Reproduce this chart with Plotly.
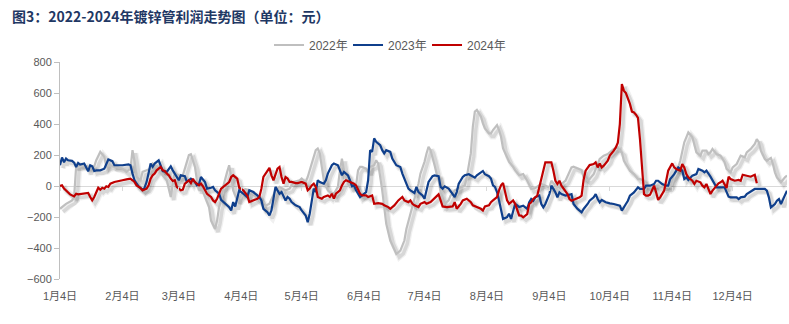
import plotly.graph_objects as go
import pandas as pd

# ---- data (day of year in a common calendar year, value in 元) ----
days_2022 = [4,7,10,11,12,14,16,18,21,22,24,26,27,29,31,32,35,37,39,40,41,42,44,45,47,49,50,52,54,55,57,59,60,61,63,65,66,68,69,70,71,72,73,74,76,78,79,81,82,83,84,85,87,88,89,90,92,94,96,98,100,103,105,108,111,113,116,118,120,123,124,126,127,129,131,132,133,134,135,137,138,140,142,143,144,145,147,148,151,152,153,154,156,157,158,160,161,162,163,164,165,166,168,170,171,173,175,176,178,180,181,182,183,185,186,187,188,189,190,191,192,193,194,195,197,198,199,200,202,204,205,206,207,208,209,210,211,212,213,214,215,217,218,219,221,222,223,224,225,227,229,230,232,234,236,237,238,240,242,243,245,247,248,250,252,253,255,257,258,259,261,263,264,266,267,269,271,272,274,276,277,279,281,282,283,284,286,287,289,291,292,294,295,297,299,301,302,304,306,307,309,311,312,313,314,315,316,318,319,320,322,323,325,326,327,328,330,332,334,335,337,338,340,341,342,344,345,347,349,350,351,352,354,355,357,358,359,360,362,364,365]
vals_2022 = [-147,-115,-93,-71,123,134,134,123,127,166,220,188,123,134,123,123,112,91,112,231,160,58,37,91,101,112,145,123,91,69,37,-71,15,91,58,69,112,199,205,166,123,37,-28,-6,-71,-136,-223,-277,-223,-136,-93,-6,91,134,58,-28,-93,-60,-20,-28,-50,-93,-136,-115,-28,-6,-28,-17,26,37,48,26,58,145,231,242,210,123,37,-28,-39,-50,-6,101,177,101,15,-6,4,101,123,123,112,91,123,134,166,145,69,-28,-136,-244,-352,-417,-439,-417,-352,-277,-179,-93,-50,15,80,156,210,253,231,188,134,80,37,-39,-93,-115,-93,-61,-50,-28,-17,-6,4,58,145,210,383,480,491,469,448,404,372,339,339,361,393,361,318,242,210,156,123,101,69,77,34,2,-19,-13,2,13,2,-9,34,2,-9,13,34,99,120,125,116,103,56,34,45,77,142,174,196,206,217,239,249,228,217,163,120,99,77,45,45,34,2,-9,2,2,-9,2,-9,2,77,120,163,228,282,314,346,314,260,217,196,228,228,206,217,239,206,196,153,110,88,120,142,174,196,185,217,239,271,303,282,228,174,163,181,142,88,56,24,56,67]

days_2023 = [4,5,6,7,8,10,11,12,13,14,16,17,18,19,20,21,22,24,26,28,30,31,33,35,38,39,40,41,43,45,46,47,48,49,50,51,53,54,55,57,59,60,61,62,63,64,66,67,68,69,71,72,73,74,76,77,79,80,81,83,84,86,88,89,90,91,92,93,95,97,98,100,102,103,104,105,107,108,109,110,111,112,113,114,116,117,118,119,121,123,124,126,127,128,129,130,131,132,133,135,136,137,139,140,142,143,144,145,147,148,149,150,151,153,154,156,157,158,159,160,161,163,164,165,166,168,169,170,171,173,174,176,177,178,180,181,182,184,185,186,187,189,190,192,193,194,195,197,199,200,201,202,204,205,207,209,210,211,213,214,215,217,218,219,220,221,222,223,224,226,227,228,229,230,231,232,234,236,237,238,239,240,242,243,244,245,247,248,249,250,251,252,253,255,257,258,259,261,263,264,266,267,269,270,271,272,273,275,277,279,282,283,285,286,287,289,291,292,294,295,297,299,300,301,303,305,306,307,309,310,311,313,314,315,316,318,320,321,323,324,325,327,328,330,332,334,336,337,340,341,342,344,345,347,349,351,354,355,356,357,359,360,361,362,364,365]
vals_2023 = [134,184,153,177,166,162,151,123,149,138,145,123,95,134,127,97,101,101,112,171,160,134,134,134,140,134,80,37,-2,-24,-11,26,84,145,123,145,166,134,97,91,127,101,80,58,37,69,63,26,37,47,26,4,11,58,26,-17,-11,-6,-28,-50,-89,-114,-136,-158,-104,-132,-71,-28,-50,-71,-28,-39,-61,-71,-93,-147,-169,-190,-158,-71,-6,-28,-50,-39,-93,-71,-82,-104,-125,-136,-158,-190,-233,-179,-93,-17,-39,37,26,15,37,80,134,145,134,101,69,91,69,37,-2,4,-28,-71,-61,-39,37,231,220,307,285,264,231,210,231,220,177,156,134,123,80,15,-17,-28,-45,-6,-39,-61,-82,-28,26,63,69,63,-6,-17,-2,-17,-50,-71,-39,15,58,69,76,63,54,69,91,97,76,63,48,4,-6,-39,-93,-158,-212,-201,-179,-212,-169,-115,-125,-136,-127,-148,-105,-84,-95,-73,-62,-116,-138,-116,-52,2,-19,-41,-73,-41,-52,-62,-56,-52,-116,-148,-170,-148,-116,-95,-73,-52,-84,-105,-90,-105,-112,-116,-127,-159,-116,-95,-62,-41,-9,-19,-19,2,2,13,34,34,13,2,2,45,77,103,120,99,45,56,39,67,77,110,99,88,99,60,34,-9,-9,-9,-69,-73,-73,-84,-73,-69,-52,-34,-19,-19,-19,-30,-73,-138,-116,-95,-84,-116,-52,-30]

days_2024 = [4,5,6,7,9,11,12,13,15,16,18,19,20,21,22,23,24,25,26,27,28,29,31,32,35,37,39,40,41,42,44,45,47,48,49,50,51,52,54,55,56,57,58,59,60,61,62,64,65,66,68,69,70,71,73,74,75,77,79,80,81,82,83,84,86,88,89,90,92,93,95,97,98,100,102,103,104,105,106,107,108,109,110,112,113,114,115,116,117,118,119,121,122,124,126,127,128,129,130,131,132,134,135,137,138,139,140,141,143,144,145,146,148,150,151,153,154,156,157,159,160,162,164,165,167,168,170,172,174,175,177,178,179,180,182,183,185,186,188,189,191,192,193,194,196,198,199,200,201,203,204,206,208,209,211,213,214,215,217,218,219,221,222,223,224,225,226,227,228,229,230,231,232,233,234,236,237,238,239,241,242,243,244,245,247,248,249,250,251,252,253,254,256,257,258,260,262,263,264,265,266,267,269,270,271,272,273,274,276,277,279,280,281,282,283,284,285,286,287,288,289,290,291,292,293,294,295,296,297,299,300,301,302,304,305,306,308,309,310,312,313,314,315,316,318,319,320,322,323,324,325,326,327,328,330,331,332,333,335,336,337,339,341,342,343,345,347,348,349,350]
vals_2024 = [0,4,-17,-28,-54,-67,-50,-54,-50,-50,-45,-71,-93,-71,-39,-11,-24,-11,-17,-2,-6,15,26,30,37,43,47,37,26,4,-13,-28,-17,4,47,69,80,101,123,101,97,80,69,47,32,37,-6,-28,-24,15,37,19,47,26,4,15,-2,-50,-71,-93,-104,-82,-50,-17,4,26,58,69,47,-11,-28,-61,-104,-93,-82,-71,-17,58,80,101,117,69,37,112,123,58,15,58,48,26,26,19,19,26,15,-28,-17,4,15,-6,-71,-82,-71,-61,-71,-50,-82,-50,-28,4,26,37,26,15,4,-50,-61,-61,-71,-61,-115,-110,-115,-125,-136,-147,-125,-93,-71,-93,-104,-93,-115,-125,-136,-115,-104,-115,-104,-93,-71,-54,-93,-132,-136,-136,-132,-104,-147,-115,-93,-82,-104,-125,-136,-147,-158,-132,-125,-104,-93,-71,-28,4,19,-39,-93,-115,-104,-93,-115,-158,-190,-191,-202,-181,-116,-105,-84,-62,-9,56,110,153,153,153,99,34,13,34,2,-19,-52,-84,-95,-84,-73,-62,40,99,120,135,142,153,120,146,120,131,163,196,228,249,280,400,658,615,600,570,530,480,475,460,440,300,120,-52,-62,-62,-56,2,-41,-90,-73,-30,34,99,146,120,110,99,142,120,77,56,34,13,34,24,2,-9,13,-19,-52,-30,2,17,24,34,-13,60,45,34,39,34,73,67,60,67,73,17]

series_names = ["2022年", "2023年", "2024年"]
tick_dates = ["2023-01-04", "2023-02-04", "2023-03-04", "2023-04-04", "2023-05-04", "2023-06-04",
              "2023-07-04", "2023-08-04", "2023-09-04", "2023-10-04", "2023-11-04", "2023-12-04"]
tick_labels = ["1月4日", "2月4日", "3月4日", "4月4日", "5月4日", "6月4日",
               "7月4日", "8月4日", "9月4日", "10月4日", "11月4日", "12月4日"]
y_ticks = [-600, -400, -200, 0, 200, 400, 600, 800]
title_text = "图3：2022-2024年镀锌管利润走势图（单位：元）"

# ---- helpers ----
base = pd.Timestamp("2023-01-01")
def to_dates(days):
    return [base + pd.Timedelta(days=d - 1) for d in days]

colors = ["#BFBFBF", "#0F3F8C", "#C00000"]
series = [(days_2022, vals_2022), (days_2023, vals_2023), (days_2024, vals_2024)]

x_range = [pd.Timestamp("2023-01-04"), pd.Timestamp("2023-12-31")]
y_range = [-600, 800]

# shadow offset (in data units, ~3px right / ~3px down)
plot_w = 789 - 60 - 2
plot_h = 324 - 62 - 45
days_span = (x_range[1] - x_range[0]).days
dx_days = 3.0 * days_span / plot_w
dy_val = 3.0 * (y_range[1] - y_range[0]) / plot_h
shadow_xr = [x_range[0] - pd.Timedelta(days=dx_days), x_range[1] - pd.Timedelta(days=dx_days)]
shadow_yr = [y_range[0] + dy_val, y_range[1] + dy_val]

fig = go.Figure()

# shadows on base (hidden) axes
for (d, v) in series:
    for w, a in [(6, 0.06), (3.5, 0.10)]:
        fig.add_trace(go.Scatter(x=to_dates(d), y=v, mode="lines", xaxis="x", yaxis="y",
                                 line=dict(color=f"rgba(0,0,0,{a})", width=w),
                                 showlegend=False, hoverinfo="skip"))

# main lines on visible overlay axes
for (d, v), name, c in zip(series, series_names, colors):
    fig.add_trace(go.Scatter(x=to_dates(d), y=v, mode="lines", name=name, xaxis="x2", yaxis="y2",
                             line=dict(color=c, width=2.2)))

# dummy trace for tick marks along zero line
fig.add_trace(go.Scatter(x=to_dates(days_2022), y=vals_2022, mode="lines", xaxis="x3", yaxis="y2",
                         opacity=0, showlegend=False, hoverinfo="skip", line=dict(width=1)))

font_axis = dict(family="Liberation Sans, Noto Sans CJK SC, sans-serif", size=11, color="#595959")

fig.update_layout(
    width=789, height=324,
    margin=dict(l=60, r=2, t=62, b=45),
    paper_bgcolor="white", plot_bgcolor="white",
    showlegend=True,
    title=dict(text=f"<b>{title_text}</b>", x=12/789, xanchor="left", xref="container",
               y=1 - 17/324, yanchor="middle", yref="container",
               font=dict(family="Noto Sans CJK SC, sans-serif", size=14, color="#1F3864")),
    legend=dict(orientation="h", x=0.2875, xanchor="left", y=1 + 17/217, yanchor="middle",
                font=dict(family="Liberation Sans, Noto Sans CJK SC, sans-serif", size=12, color="#595959"),
                bgcolor="rgba(0,0,0,0)", itemwidth=30, tracegroupgap=0,
                entrywidth=34, entrywidthmode="pixels"),
    xaxis=dict(type="date", range=shadow_xr, visible=False, fixedrange=True),
    yaxis=dict(range=shadow_yr, visible=False, fixedrange=True),
    xaxis2=dict(type="date", range=x_range, overlaying="x", anchor="y2", side="bottom",
                tickvals=[pd.Timestamp(t) for t in tick_dates], ticktext=tick_labels,
                showline=False, showgrid=False, zeroline=False,
                ticks="outside", ticklen=7, tickcolor="rgba(0,0,0,0)",
                tickfont=font_axis),
    yaxis2=dict(range=y_range, overlaying="y", anchor="x2", side="left",
                tickvals=y_ticks, showgrid=False,
                showline=True, linecolor="#BFBFBF", linewidth=1,
                ticks="outside", ticklen=5, tickcolor="#BFBFBF",
                zeroline=True, zerolinecolor="#D9D9D9", zerolinewidth=1,
                tickfont=font_axis),
    xaxis3=dict(type="date", range=x_range, overlaying="x", anchor="free",
                position=(0 - y_range[0]) / (y_range[1] - y_range[0]),
                tickvals=[pd.Timestamp(t) for t in tick_dates], showticklabels=False,
                ticks="outside", ticklen=4, tickcolor="#D9D9D9",
                showline=False, showgrid=False, zeroline=False),
)

fig.write_html("out.html")
